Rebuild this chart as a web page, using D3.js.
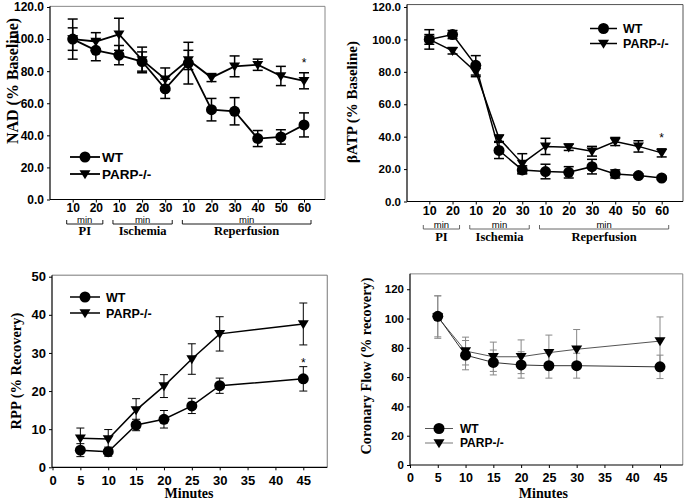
<!DOCTYPE html>
<html><head><meta charset="utf-8">
<script src="https://cdn.jsdelivr.net/npm/d3@7"></script>
<style>body{margin:0;background:#fff}svg{display:block}</style>
</head><body><svg id="c" width="685" height="501"></svg>
<script>
// ---------- data ----------
const timeLabels = ["10","20","10","20","30","10","20","30","40","50","60"];
const phaseNames = ["PI","Ischemia","Reperfusion"];
const phaseStart = [0,2,5];
const phaseEnd = [1,4,10];
const nadWT = [100,93,90,86,69,85,56,55,38,39,46.5];
const nadWTErr = [12.5,6.5,6,6,6,13,7,8.5,5,4.5,7.5];
const nadPARP = [100,98.5,103,87,75,87,76,83,84,77,74];
const nadPARPErr = [7,5.5,10,8,7,6,2.5,6.5,3.5,6,5];
const atpWT = [100,103,84,31.5,19.5,18.5,18,21.5,17,16,14.5];
const atpWTErr = [6,2.5,6,5,2.5,4.5,3.5,4.5,2.5,1,1];
const atpPARP = [100,93,80,39,23.5,34,33.5,31,37,34,30];
const atpPARPErr = [3,2,3,2,6,5,2,3,2.5,3.5,2.5];
const minutes = [5,10,15,20,25,30,45];
const rppWT = [4.5,4.1,11.1,12.6,16.1,21.4,23.2];
const rppWTErr = [1.7,1.2,1.5,2.3,2,2,3.2];
const rppPARP = [7.6,7.4,15,21.3,28.4,35,37.6];
const rppPARPErr = [2.7,2.5,3,3,4,4.5,5.5];
const flowWT = [101.5,75,70,68.3,67.8,67.8,67];
const flowWTErr = [14,10,8.5,9,8.5,8.5,8];
const flowPARP = [101,77.8,73.9,73.9,76.7,79,84.6];
const flowPARPErr = [14.5,9.5,10,11.5,12,13.5,16.5];
const minuteTicks = [0,5,10,15,20,25,30,35,40,45];
const pctTicks = [0,20,40,60,80,100,120];
const rppTicks = [0,10,20,30,40,50];
const seriesNames = ["WT","PARP-/-"];

// ---------- drawing ----------
const svg = d3.select("#c");
const SANS = "'Liberation Sans', Arial, sans-serif";
const SERIF = "'Liberation Serif', 'Times New Roman', serif";

function tri(w,h){ return `M${-w},${-h*0.42}L${w},${-h*0.42}L0,${h*0.58}Z`; }

function marker(g, kind, cx, cy, st){
  if(kind==="c") g.append("circle").attr("cx",cx).attr("cy",cy).attr("r",st.r).attr("fill","#000");
  else g.append("path").attr("d",tri(st.tw,st.th)).attr("transform",`translate(${cx},${cy})`).attr("fill","#000");
}

function frame(g, L, R, T, B, frameColor){
  g.append("line").attr("x1",L).attr("x2",R).attr("y1",T).attr("y2",T).attr("stroke",frameColor).attr("stroke-width",1);
  g.append("line").attr("x1",R).attr("x2",R).attr("y1",T).attr("y2",B).attr("stroke",frameColor).attr("stroke-width",1);
  g.append("line").attr("x1",L).attr("x2",L).attr("y1",T).attr("y2",B).attr("stroke","#000").attr("stroke-width",1.2);
  g.append("line").attr("x1",L).attr("x2",R).attr("y1",B).attr("y2",B).attr("stroke","#000").attr("stroke-width",1.2);
}

function drawSeries(g, x, y, xs, data, st){
  data.forEach(d=>{
    g.append("path").attr("fill","none").attr("stroke",d.lineColor).attr("stroke-width",st.lw)
      .attr("d", d3.line().x((v,i)=>x(xs[i])).y(v=>y(v))(d.vals));
  });
  data.forEach(d=>{
    const eg = g.append("g").attr("stroke",st.ec).attr("stroke-width",st.ew);
    xs.forEach((xv,i)=>{
      const cx=x(xv), y1=y(d.vals[i]-d.errs[i]), y2=y(d.vals[i]+d.errs[i]);
      eg.append("line").attr("x1",cx).attr("x2",cx).attr("y1",y1).attr("y2",y2);
      eg.append("line").attr("x1",cx-st.cap).attr("x2",cx+st.cap).attr("y1",y1).attr("y2",y1);
      eg.append("line").attr("x1",cx-st.cap).attr("x2",cx+st.cap).attr("y1",y2).attr("y2",y2);
    });
  });
  data.forEach(d=>{
    xs.forEach((xv,i)=>marker(g,d.kind,x(xv),y(d.vals[i]),st));
  });
}

function legend(g, lx1, lx2, yWT, yPARP, tx, fs, st, lineColors){
  [[yWT,"c",seriesNames[0],lineColors[0]],[yPARP,"t",seriesNames[1],lineColors[1]]].forEach(([yy,k,name,lc])=>{
    g.append("line").attr("x1",lx1).attr("x2",lx2).attr("y1",yy).attr("y2",yy).attr("stroke",lc).attr("stroke-width",st.lw);
    marker(g,k,(lx1+lx2)/2,yy,st);
    g.append("text").attr("x",tx).attr("y",yy).attr("dy","0.36em").attr("font-family",SANS)
      .attr("font-weight","bold").attr("font-size",fs).attr("fill","#000").text(name);
  });
}

function yAxis(g, y, L, ticks, fmt, fs){
  const a = g.append("g").attr("transform",`translate(${L},0)`)
    .call(d3.axisLeft(y).tickValues(ticks).tickFormat(fmt).tickSize(3).tickPadding(3));
  a.select(".domain").remove();
  a.selectAll("text").attr("font-family",SANS).attr("font-weight","bold").attr("font-size",fs).attr("fill","#000");
  return a;
}
function xAxis(g, x, B, ticks, fmt, fs, pad){
  const a = g.append("g").attr("transform",`translate(0,${B})`)
    .call(d3.axisBottom(x).tickValues(ticks).tickFormat(fmt).tickSize(3).tickPadding(pad));
  a.select(".domain").remove();
  a.selectAll("text").attr("font-family",SANS).attr("font-weight","bold").attr("font-size",fs).attr("fill","#000");
  return a;
}
function yTitle(g, cx, cy, txt, fs){
  g.append("text").attr("transform",`translate(${cx},${cy}) rotate(-90)`).attr("text-anchor","middle")
    .attr("dy","0.35em").attr("font-family",SERIF).attr("font-weight","bold").attr("font-size",fs).attr("fill","#000").text(txt);
}
function phases(g, x, lineY, labelY, fsLabel, col){
  phaseNames.forEach((n,i)=>{
    const a = x(phaseStart[i])-6, b = x(phaseEnd[i])+7;
    g.append("path").attr("d",`M${a},${lineY-4}V${lineY}H${b}V${lineY-4}`).attr("fill","none").attr("stroke",col).attr("stroke-width",0.9);
    g.append("text").attr("x",(a+b)/2).attr("y",lineY-1).attr("text-anchor","middle").attr("font-family",SANS)
      .attr("font-size",9.5).attr("fill","#000").text("min");
    g.append("text").attr("x",(a+b)/2).attr("y",labelY).attr("text-anchor","middle").attr("font-family",SERIF)
      .attr("font-weight","bold").attr("font-size",fsLabel).attr("fill","#000").text(n);
  });
}
function star(g, cx, cy){
  g.append("text").attr("x",cx).attr("y",cy).attr("dy","0.55em").attr("text-anchor","middle")
    .attr("font-family",SANS).attr("font-size",12).attr("fill","#000").text("*");
}

// ---------- Panel A: NAD ----------
{
  const g = svg.append("g");
  const x = d3.scalePoint().domain(d3.range(timeLabels.length)).range([72.7,304]);
  const y = d3.scaleLinear().domain([0,120]).range([199.5,7]);
  frame(g, 50, 325, y(120.4), y(0), "#888");
  yAxis(g, y, 50, pctTicks, d3.format(".1f"), 12);
  xAxis(g, x, y(0), d3.range(timeLabels.length), i=>timeLabels[i], 12, 1);
  const st = {lw:1.8, ec:"#000", ew:1.5, cap:5, r:5.5, tw:5.5, th:9};
  drawSeries(g, x, y, d3.range(timeLabels.length), [
    {vals:nadPARP, errs:nadPARPErr, kind:"t", lineColor:"#000"},
    {vals:nadWT, errs:nadWTErr, kind:"c", lineColor:"#000"}], st);
  star(g, x(10), y(86.5));
  legend(g, 70, 100, 157, 174, 102, 13.5, st, ["#000","#000"]);
  phases(g, x, 224, 235, 12.5, "#000");
  yTitle(g, 12, 81, "NAD (% Baseline)", 16);
}
// ---------- Panel B: ATP ----------
{
  const g = svg.append("g");
  const x = d3.scalePoint().domain(d3.range(timeLabels.length)).range([429.3,661.7]);
  const y = d3.scaleLinear().domain([0,120]).range([201.5,7]);
  frame(g, 407, 683, y(121.5), y(0), "#555");
  yAxis(g, y, 407, pctTicks, d3.format(".1f"), 11.5);
  xAxis(g, x, y(0), d3.range(timeLabels.length), i=>timeLabels[i], 12.5, 2);
  const st = {lw:1.5, ec:"#000", ew:1.5, cap:5, r:5.5, tw:5.5, th:9};
  drawSeries(g, x, y, d3.range(timeLabels.length), [
    {vals:atpPARP, errs:atpPARPErr, kind:"t", lineColor:"#000"},
    {vals:atpWT, errs:atpWTErr, kind:"c", lineColor:"#000"}], st);
  star(g, x(10), y(40.5));
  legend(g, 590, 617, 28.5, 43.5, 623, 12.5, st, ["#000","#000"]);
  phases(g, x, 229, 241, 12.5, "#555");
  yTitle(g, 352, 102, "\u03b2ATP (% Baseline)", 15);
}
// ---------- Panel C: RPP ----------
{
  const g = svg.append("g");
  const x = d3.scaleLinear().domain([0,45]).range([52.5,303.3]);
  const y = d3.scaleLinear().domain([0,50]).range([467.3,276.7]);
  frame(g, 52, x(49.3), y(50.4), y(0), "#777");
  yAxis(g, y, 52, rppTicks, d3.format("d"), 13);
  xAxis(g, x, y(0), minuteTicks, d3.format("d"), 13, 5);
  const st = {lw:1.5, ec:"#000", ew:1, cap:4, r:5.5, tw:5.5, th:9};
  drawSeries(g, x, y, minutes, [
    {vals:rppPARP, errs:rppPARPErr, kind:"t", lineColor:"#000"},
    {vals:rppWT, errs:rppWTErr, kind:"c", lineColor:"#000"}], st);
  star(g, x(45), y(28));
  legend(g, 70, 100, 297, 313, 106, 12.5, st, ["#000","#000"]);
  g.append("text").attr("x",x(24.5)).attr("y",498).attr("text-anchor","middle").attr("font-family",SERIF)
    .attr("font-weight","bold").attr("font-size",14).attr("fill","#000").text("Minutes");
  yTitle(g, 16, 371, "RPP (% Recovery)", 14.5);
}
// ---------- Panel D: Coronary flow ----------
{
  const g = svg.append("g");
  const x = d3.scaleLinear().domain([0,45]).range([410,660]);
  const y = d3.scaleLinear().domain([0,130]).range([465,274.6]);
  frame(g, 410, x(49.1), y(130.5), y(0), "#888");
  yAxis(g, y, 410, pctTicks, d3.format("d"), 11.5);
  xAxis(g, x, y(0), minuteTicks, d3.format("d"), 12.5, 5);
  const st = {lw:1, ec:"#888", ew:1, cap:3.5, r:5.5, tw:5.5, th:9};
  drawSeries(g, x, y, minutes, [
    {vals:flowPARP, errs:flowPARPErr, kind:"t", lineColor:"#555"},
    {vals:flowWT, errs:flowWTErr, kind:"c", lineColor:"#333"}], st);
  legend(g, 425, 453, 428.5, 443, 460, 12, st, ["#555","#777"]);
  g.append("text").attr("x",x(24)).attr("y",498).attr("text-anchor","middle").attr("font-family",SERIF)
    .attr("font-weight","bold").attr("font-size",14).attr("fill","#000").text("Minutes");
  yTitle(g, 366, 366, "Coronary Flow (% recovery)", 14.3);
}
</script></body></html>
